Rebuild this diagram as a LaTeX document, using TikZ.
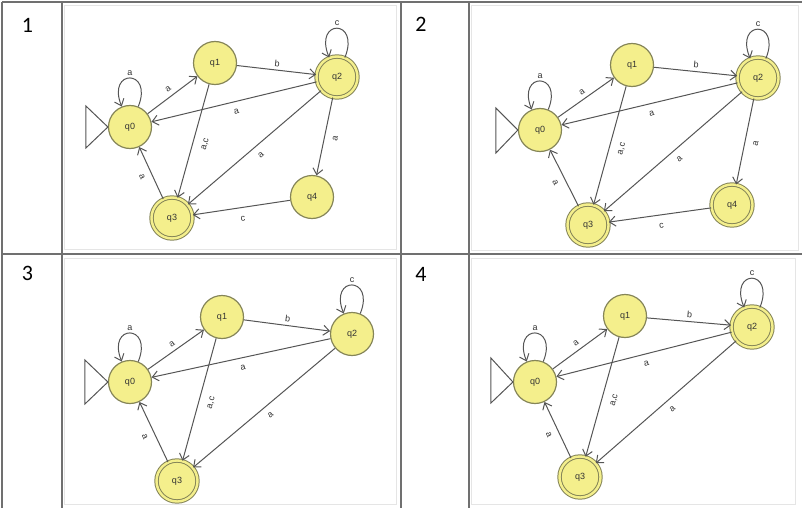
\documentclass[tikz,border=0pt]{standalone}
\usepackage{fontspec}
\setmainfont{Liberation Sans}
\newfontfamily\numfont{Carlito}
\usetikzlibrary{arrows.meta}
\definecolor{statefill}{HTML}{F4EF8C}
\definecolor{statedraw}{HTML}{858558}
\definecolor{edgecol}{HTML}{555555}
\definecolor{gridcol}{HTML}{707070}
\tikzset{
  state/.style={circle, draw=statedraw, fill=statefill, line width=1.2pt, minimum size=43pt, inner sep=0pt, font=\fontsize{9}{9}\selectfont, text=black!80},
  final/.style={double=statefill, double distance=2.4pt, line width=1pt, minimum size=41pt},
  trans/.style={draw=edgecol, line width=1pt, -{Straight Barb[length=6pt,width=10pt]}},
  lbl/.style={font=\fontsize{9}{9}\selectfont, text=black!80, sloped, inner sep=1pt},
  init/.style={draw=edgecol, line width=1pt},
  grid/.style={draw=gridcol, line width=1.8pt},
  frame/.style={draw=black!10, line width=0.6pt},
  num/.style={font=\numfont\fontsize{22}{22}\selectfont}
}
\begin{document}
\begin{tikzpicture}[x=1pt, y=1pt]
    \useasboundingbox (0,0) rectangle (802,-508);
    % table
    \draw[frame] (64,-5) rectangle (396,-249);
    \draw[frame] (471,-5) rectangle (798,-250);
    \draw[frame] (64,-258) rectangle (396,-504);
    \draw[frame] (471,-258) rectangle (795,-504);
    \draw[grid] (2,-2) -- (802,-2);
    \draw[grid] (2,-254.3) -- (802,-254.3);
    \foreach \x in {2, 62.3, 400.7, 469.3}
      \draw[grid] (\x,-2) -- (\x,-508);

    % 1
    \begin{scope}[name prefix=p1-]
    \node[num] (n) at (27.5,-25) {1};
    \node[state] (q0) at (130,-127) {q0};
    \node[state] (q1) at (215,-63) {q1};
    \node[state, final] (q2) at (337,-77) {q2};
    \node[state, final] (q3) at (172,-218) {q3};
    \node[state] (q4) at (312,-197) {q4};
    \draw[init] (q0.west) -- ++(-22,21) -- ++(0,-42) -- cycle; % start
    \draw[trans] (q0) .. controls +(68:63) and +(112:63) .. node[lbl, above=1pt] {a} (q0);
    \draw[trans] (q2) .. controls +(68:63) and +(112:63) .. node[lbl, above=1pt] {c} (q2);
    \draw[trans] (q0) -- node[lbl, above=3pt] {a} (q1);
    \draw[trans] (q1) -- node[lbl, above=2pt] {b} (q2);
    \draw[trans] (q2) -- node[lbl, below=6pt] {a} (q0);
    \draw[trans] (q1) -- node[lbl, below=8pt] {a,c} (q3);
    \draw[trans] (q2) -- node[lbl, below=6pt] {a} (q3);
    \draw[trans] (q2) -- node[lbl, below=7pt] {a} (q4);
    \draw[trans] (q4) -- node[lbl, below=7pt] {c} (q3);
    \draw[trans] (q3) -- node[lbl, below=6pt] {a} (q0);
    \end{scope}

    % 2
    \begin{scope}[name prefix=p2-]
    \node[num] (n) at (421,-24) {2};
    \node[state] (q0) at (540,-130) {q0};
    \node[state] (q1) at (632,-65) {q1};
    \node[state, final] (q2) at (758,-78) {q2};
    \node[state, final] (q3) at (588,-225) {q3};
    \node[state, final] (q4) at (732,-205) {q4};
    \draw[init] (q0.west) -- ++(-22,22) -- ++(0,-45) -- cycle; % start
    \draw[trans] (q0) .. controls +(68:63) and +(112:63) .. node[lbl, above=1pt] {a} (q0);
    \draw[trans] (q2) .. controls +(68:63) and +(112:63) .. node[lbl, above=1pt] {c} (q2);
    \draw[trans] (q0) -- node[lbl, above=3pt] {a} (q1);
    \draw[trans] (q1) -- node[lbl, above=2pt] {b} (q2);
    \draw[trans] (q2) -- node[lbl, below=6pt] {a} (q0);
    \draw[trans] (q1) -- node[lbl, below=8pt] {a,c} (q3);
    \draw[trans] (q2) -- node[lbl, below=6pt] {a} (q3);
    \draw[trans] (q2) -- node[lbl, below=7pt] {a} (q4);
    \draw[trans] (q4) -- node[lbl, below=7pt] {c} (q3);
    \draw[trans] (q3) -- node[lbl, below=6pt] {a} (q0);
    \end{scope}

    % 3
    \begin{scope}[name prefix=p3-]
    \node[num] (n) at (27.5,-273) {3};
    \node[state] (q0) at (130,-382) {q0};
    \node[state] (q1) at (222,-317) {q1};
    \node[state] (q2) at (352,-334) {q2};
    \node[state, final] (q3) at (177,-481) {q3};
    \draw[init] (q0.west) -- ++(-23,22) -- ++(0,-44) -- cycle; % start
    \draw[trans] (q0) .. controls +(68:63) and +(112:63) .. node[lbl, above=1pt] {a} (q0);
    \draw[trans] (q2) .. controls +(68:63) and +(112:63) .. node[lbl, above=1pt] {c} (q2);
    \draw[trans] (q0) -- node[lbl, above=3pt] {a} (q1);
    \draw[trans] (q1) -- node[lbl, above=2pt] {b} (q2);
    \draw[trans] (q2) -- node[lbl, below=6pt] {a} (q0);
    \draw[trans] (q1) -- node[lbl, below=8pt] {a,c} (q3);
    \draw[trans] (q2) -- node[lbl, below=6pt] {a} (q3);
    \draw[trans] (q3) -- node[lbl, below=6pt] {a} (q0);
    \end{scope}

    % 4
    \begin{scope}[name prefix=p4-]
    \node[num] (n) at (421,-274) {4};
    \node[state] (q0) at (535,-382) {q0};
    \node[state] (q1) at (625,-316) {q1};
    \node[state, final] (q2) at (752,-327) {q2};
    \node[state, final] (q3) at (580,-477) {q3};
    \draw[init] (q0.west) -- ++(-22,24) -- ++(0,-45) -- cycle; % start
    \draw[trans] (q0) .. controls +(68:63) and +(112:63) .. node[lbl, above=1pt] {a} (q0);
    \draw[trans] (q2) .. controls +(68:63) and +(112:63) .. node[lbl, above=1pt] {c} (q2);
    \draw[trans] (q0) -- node[lbl, above=3pt] {a} (q1);
    \draw[trans] (q1) -- node[lbl, above=2pt] {b} (q2);
    \draw[trans] (q2) -- node[lbl, below=6pt] {a} (q0);
    \draw[trans] (q1) -- node[lbl, below=8pt] {a,c} (q3);
    \draw[trans] (q2) -- node[lbl, below=6pt] {a} (q3);
    \draw[trans] (q3) -- node[lbl, below=6pt] {a} (q0);
    \end{scope}
\end{tikzpicture}
\end{document}
